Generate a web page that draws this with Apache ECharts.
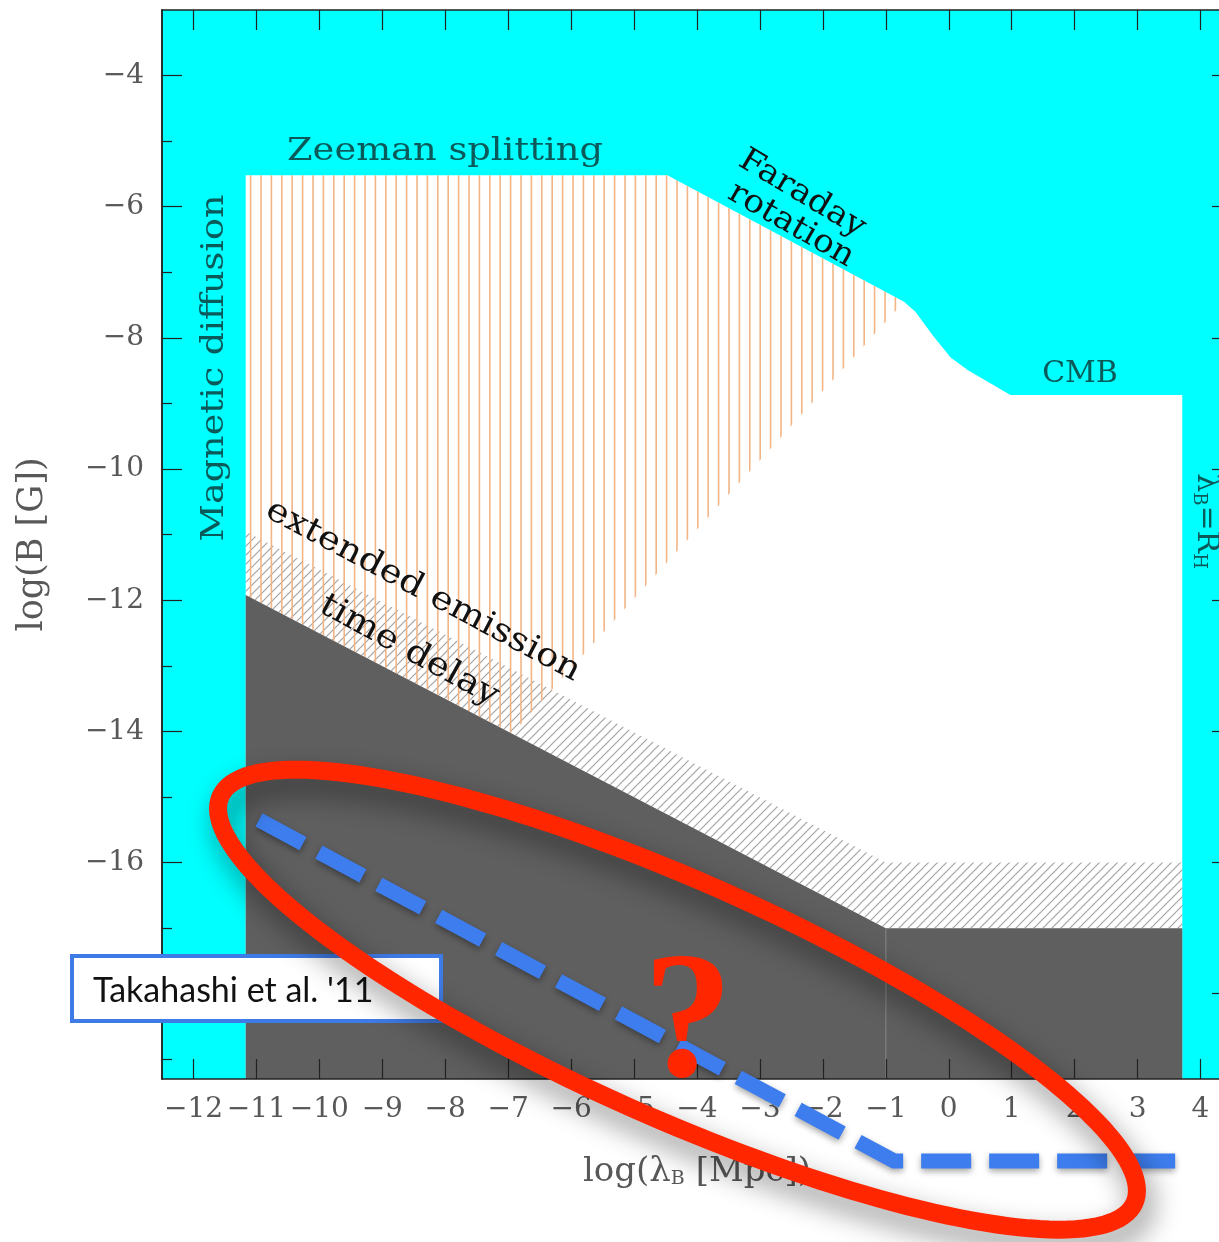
<!DOCTYPE html>
<html>
<head>
<meta charset="utf-8">
<script src="https://cdn.jsdelivr.net/npm/echarts@6/dist/echarts.min.js"></script>
<style>
  html, body { margin: 0; padding: 0; background: #ffffff; }
  #chart { width: 1219px; height: 1242px; }
</style>
</head>
<body>
<div id="chart"></div>
<script>
// ---- axis ranges and ticks: log(lambda_B [Mpc]) vs log(B [G]) ----
const xRange = [-12.5, 4.5];
const yRange = [-19.3, -3];
const xTickValues = [-12, -11, -10, -9, -8, -7, -6, -5, -4, -3, -2, -1, 0, 1, 2, 3, 4];
const yMajorTickValues = [-18, -16, -14, -12, -10, -8, -6, -4];
const yMinorTickValues = [-19, -17, -15, -13, -11, -9, -7, -5];

// ---- constraint regions (x = log lambda, y = log B) ----
// region not excluded by Zeeman / Faraday / CMB / diffusion / horizon limits
const allowedRegion = [
  [-11.17, -19.3], [-11.17, -5.52], [-4.47, -5.52], [-0.71, -7.45],
  [-0.53, -7.60], [-0.24, -7.98], [0.03, -8.30], [0.30, -8.49],
  [0.98, -8.87], [3.71, -8.87], [3.71, -19.3]
];
// hatched band: extended emission / time delay
const emissionBand = [
  [-11.17, -10.95], [-1.0, -16.0], [3.71, -16.0], [3.71, -17.0],
  [-1.0, -17.0], [-11.17, -11.92]
];
// lower bound excluded region
const excludedBelow = [
  [-11.17, -11.92], [-1.0, -17.0], [3.71, -17.0], [3.71, -19.3], [-11.17, -19.3]
];
// vertically hatched region
const hatchedUpper = [
  [-11.17, -5.52], [-4.47, -5.52], [-0.71, -7.45], [-5.45, -12.45],
  [-6.93, -14.03], [-11.17, -11.92]
];
const kinkLine = [[-1.0, -17.0], [-1.0, -19.3]];

// Takahashi et al. 2011 bound
const takahashiX = [-10.96, -0.87, 3.76];
const takahashiY = [-15.35, -20.55, -20.55];

// highlight ellipse: centre and semi-axis vectors (data units)
const ellipseCenter = [-4.31, -18.09];
const ellipseMajor = [7.26, -3.10];
const ellipseMinor = [-0.76, -1.64];

// ---- helpers ----
function makePattern(w, h, draw) {
  const c = document.createElement('canvas');
  c.width = w; c.height = h;
  const g = c.getContext('2d');
  draw(g, w, h);
  return { image: c, repeat: 'repeat' };
}
const orangeHatch = makePattern(52, 8, (g, w, h) => {
  g.strokeStyle = '#f3b585';
  g.lineWidth = 1.6;
  for (let i = 0; i < 5; i++) {
    const x = 1 + i * 10.4;
    g.beginPath(); g.moveTo(x, 0); g.lineTo(x, h); g.stroke();
  }
});
const grayHatch = makePattern(9, 9, (g, w, h) => {
  g.strokeStyle = '#a4a4a4';
  g.lineWidth = 1.2;
  for (const k of [-9, 0, 9]) {
    g.beginPath(); g.moveTo(-2 + k, 11); g.lineTo(11 + k, -2); g.stroke();
  }
});

function polygonSeries(name, points, style, z) {
  return {
    type: 'custom', name, data: points, z, silent: true,
    renderItem: (params, api) => {
      if (params.dataIndex !== 0) return null;
      return { type: 'polygon', shape: { points: points.map(p => api.coord(p)) }, style };
    }
  };
}

const minusFmt = v => (v < 0 ? '\u2212' : '') + Math.abs(v);
const serif = '"DejaVu Serif", "Liberation Serif", serif';
const axisColor = '#222222';
const labelColor = '#585858';

function xAxisDef(pos, withLabels) {
  return {
    type: 'value', min: xRange[0], max: xRange[1], position: pos, z: 10,
    axisLine: { show: true, onZero: false, lineStyle: { color: axisColor, width: 1.5 } },
    axisTick: { show: true, inside: true, length: 20, customValues: xTickValues,
      lineStyle: { color: axisColor, width: 1.2 } },
    axisLabel: { show: withLabels, customValues: xTickValues, formatter: minusFmt, margin: 17,
      fontFamily: serif, fontSize: 28, color: labelColor },
    splitLine: { show: false },
    name: withLabels ? 'log(\u03bb{sub|B} [Mpc])' : '',
    nameLocation: 'middle', nameGap: 76,
    nameTextStyle: { fontFamily: serif, fontSize: 34, color: labelColor,
      rich: { sub: { fontFamily: serif, fontSize: 19, color: labelColor, verticalAlign: 'bottom', padding: [14, 0, 0, 0] } } }
  };
}
function yAxisDef(pos, ticks, len, withLabels) {
  return {
    type: 'value', min: yRange[0], max: yRange[1], position: pos, z: 10,
    axisLine: { show: true, onZero: false, lineStyle: { color: axisColor, width: 1.5 } },
    axisTick: { show: true, inside: true, length: len, customValues: ticks,
      lineStyle: { color: axisColor, width: 1.2 } },
    axisLabel: { show: withLabels, customValues: ticks, formatter: minusFmt, margin: 18,
      fontFamily: serif, fontSize: 28, color: labelColor },
    splitLine: { show: false },
    name: withLabels ? 'log(B [G])' : '',
    nameLocation: 'middle', nameGap: 112, nameRotate: 90,
    nameTextStyle: { fontFamily: serif, fontSize: 35, color: labelColor }
  };
}

const chart = echarts.init(document.getElementById('chart'), null, { renderer: 'canvas' });
const tealText = '#0b5a5a';
const inkText = '#111111';

function label(text, x, y, size, color, rotation, scaleX, extra) {
  return Object.assign({
    type: 'text', z: 20, x, y, rotation: rotation || 0, scaleX: scaleX || 1,
    style: { text, font: size + 'px ' + serif, fill: color, align: 'center', verticalAlign: 'middle' }
  }, extra || {});
}

chart.setOption({
  animation: false,
  backgroundColor: '#ffffff',
  grid: { left: 162, top: 10, width: 1070, height: 1069, show: true,
    backgroundColor: '#00ffff', borderWidth: 0, containLabel: false, outerBoundsMode: 'none' },
  xAxis: [xAxisDef('bottom', true), xAxisDef('top', false)],
  yAxis: [
    yAxisDef('left', yMajorTickValues, 20, true),
    yAxisDef('left', yMinorTickValues, 10, false),
    yAxisDef('right', yMajorTickValues, 20, false),
    yAxisDef('right', yMinorTickValues, 10, false)
  ],
  series: [
    polygonSeries('allowed', allowedRegion, { fill: '#ffffff' }, 1),
    polygonSeries('emission band', emissionBand, { fill: grayHatch }, 2),
    polygonSeries('hatched', hatchedUpper, { fill: orangeHatch }, 3),
    polygonSeries('excluded', excludedBelow, { fill: '#5f5f5f' }, 4),
    {
      type: 'line', name: 'kink', data: kinkLine, symbol: 'none', z: 5, silent: true,
      lineStyle: { color: '#7a7a7a', width: 1.5 }
    },
    {
      type: 'line', name: "Takahashi et al. '11",
      data: takahashiX.map((x, i) => [x, takahashiY[i]]),
      symbol: 'none', clip: false, z: 25, silent: true,
      lineStyle: { color: '#3d7ded', width: 15, type: [50, 18], cap: 'butt', join: 'miter',
        shadowBlur: 6, shadowColor: 'rgba(0,0,0,0.35)', shadowOffsetY: 3 }
    },
    {
      type: 'custom', name: 'highlight', data: [ellipseCenter], z: 30, silent: true, clip: false,
      renderItem: (params, api) => {
        const c = api.coord(ellipseCenter);
        const a = api.coord([ellipseCenter[0] + ellipseMajor[0], ellipseCenter[1] + ellipseMajor[1]]);
        const b = api.coord([ellipseCenter[0] + ellipseMinor[0], ellipseCenter[1] + ellipseMinor[1]]);
        const ax = a[0] - c[0], ay = a[1] - c[1], bx = b[0] - c[0], by = b[1] - c[1];
        const pts = [];
        for (let i = 0; i < 180; i++) {
          const t = i / 180 * Math.PI * 2;
          pts.push([c[0] + Math.cos(t) * ax + Math.sin(t) * bx, c[1] + Math.cos(t) * ay + Math.sin(t) * by]);
        }
        return { type: 'polygon', shape: { points: pts },
          style: { fill: null, stroke: '#ff2600', lineWidth: 18,
            shadowBlur: 28, shadowColor: 'rgba(0,0,0,0.45)', shadowOffsetX: 6, shadowOffsetY: 14 } };
      }
    }
  ],
  graphic: [
    label('Zeeman splitting', 445, 152, 32, tealText, 0, 1.15),
    label('Faraday', 802, 194, 32, inkText, -0.54, 1.08),
    label('rotation', 791, 225, 32, inkText, -0.52, 1.08),
    label('CMB', 1080, 374, 30, tealText, 0, 1),
    label('Magnetic diffusion', 215, 368, 31, tealText, Math.PI / 2, 1.18),
    {
      type: 'text', z: 20, x: 1206, y: 521, rotation: -Math.PI / 2, style: {
        text: '\u03bb{s|B}=R{s|H}', font: '30px ' + serif, fill: tealText, align: 'center', verticalAlign: 'middle',
        rich: { s: { font: '18px ' + serif, fill: tealText, verticalAlign: 'bottom', padding: [14, 0, 0, 0] } } }
    },
    label('extended emission', 423, 591, 33, inkText, -0.49, 1.13),
    label('time delay', 409, 651, 33, inkText, -0.5, 1.14),
    { type: 'rect', z: 20, shape: { x: 72, y: 956, width: 369, height: 65 },
      style: { fill: '#ffffff', stroke: '#3f7be6', lineWidth: 4 } },
    { type: 'text', z: 21, x: 93, y: 991, style: { text: "Takahashi et al. '11", font: '34px Lato, "Open Sans", sans-serif',
      fill: '#111111', align: 'left', verticalAlign: 'middle' } },
    { type: 'text', z: 40, x: 688, y: 1028, style: { text: '?', font: 'bold 180px "Liberation Serif", serif',
      fill: '#ff2600', align: 'center', verticalAlign: 'middle' } }
  ]
});
</script>
</body>
</html>
